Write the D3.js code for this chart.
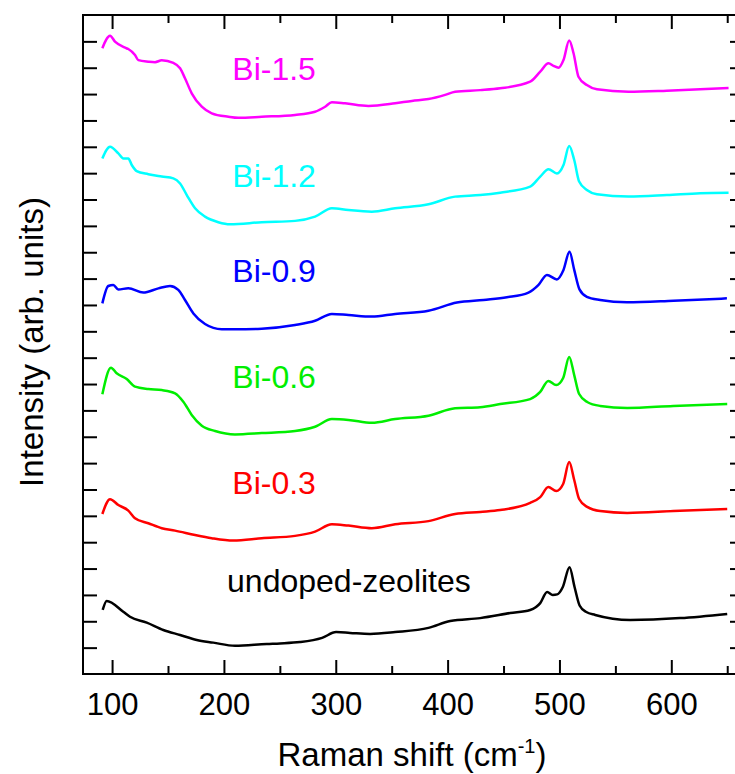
<!DOCTYPE html>
<html>
<head>
<meta charset="utf-8">
<script src="https://cdn.jsdelivr.net/npm/d3@7"></script>
<style>
  html, body { margin: 0; padding: 0; background: #fff; overflow: hidden; }
  svg { display: block; font-family: "Liberation Sans", Arial, sans-serif; }
</style>
</head>
<body>
<svg id="chart" width="735" height="774"></svg>
<script>
// ---------------- data ----------------
const seriesNames = ["undoped-zeolites", "Bi-0.3", "Bi-0.6", "Bi-0.9", "Bi-1.2", "Bi-1.5"];

const xUndoped = [91.6, 95.2, 110.0, 116.0, 131.0, 145.8, 160.8, 175.7, 190.5, 209.9, 238.3, 250.2, 268, 287.8, 300.3, 312.8, 330.7, 353.1, 382.9, 402.3, 429.1, 455.9, 473.8, 482.8, 489.0, 494.0, 498.0, 503.0, 509.0, 513.5, 518.0, 524.0, 532.0, 563.3, 607.9, 650.0];
const yUndoped = [2.43, 2.77, 2.36, 2.17, 1.95, 1.67, 1.48, 1.29, 1.19, 1.07, 1.14, 1.16, 1.21, 1.37, 1.59, 1.56, 1.52, 1.59, 1.75, 2.01, 2.12, 2.31, 2.43, 2.69, 3.11, 3.00, 3.02, 3.30, 4.05, 3.30, 2.60, 2.35, 2.24, 2.05, 2.12, 2.28];

const xBi03 = [91.3, 98.2, 105.6, 114.5, 120.5, 132.4, 144.4, 156.3, 174.2, 189.1, 208.4, 233.8, 263.6, 281.5, 296.5, 311.3, 332.2, 353.1, 382.9, 406.7, 429.1, 447.0, 473.8, 482.8, 490.0, 497.1, 503.3, 508.7, 513.2, 517.6, 524.8, 536.4, 560.6, 601.8, 650.0];
const yBi03 = [6.07, 6.63, 6.41, 6.20, 5.91, 5.72, 5.53, 5.44, 5.27, 5.15, 5.06, 5.15, 5.24, 5.40, 5.68, 5.63, 5.53, 5.68, 5.80, 6.07, 6.15, 6.22, 6.49, 6.71, 7.09, 6.94, 7.21, 8.04, 7.36, 6.64, 6.34, 6.18, 6.11, 6.18, 6.26];

const xBi06 = [91.3, 99.0, 104.1, 113.1, 120.5, 132.4, 144.4, 156.3, 163.7, 171.2, 180.2, 192.1, 209.9, 233.8, 263.6, 281.5, 296.5, 311.3, 332.2, 353.1, 382.9, 406.7, 429.1, 447.0, 473.8, 482.8, 490.0, 497.1, 503.3, 508.7, 513.2, 517.6, 524.8, 536.4, 560.6, 601.8, 650.0];
const yBi06 = [10.61, 11.62, 11.41, 11.19, 10.90, 10.81, 10.77, 10.65, 10.33, 9.83, 9.42, 9.22, 9.09, 9.14, 9.22, 9.38, 9.67, 9.64, 9.53, 9.67, 9.80, 10.08, 10.12, 10.24, 10.43, 10.70, 11.12, 10.96, 11.23, 12.03, 11.34, 10.62, 10.32, 10.17, 10.09, 10.17, 10.24];

const xBi09 = [91.3, 96.6, 101.1, 105.6, 114.5, 127.9, 141.4, 151.8, 159.2, 165.2, 172.7, 183.1, 198.1, 209.9, 233.8, 263.6, 281.5, 296.5, 311.3, 332.2, 353.1, 382.9, 408.3, 432.1, 453.0, 472.3, 481.3, 488.8, 497.7, 503.6, 509.0, 513.2, 517.9, 524.5, 536.4, 560.3, 602.0, 649.7];
const yBi09 = [14.06, 14.72, 14.76, 14.59, 14.63, 14.47, 14.63, 14.72, 14.57, 14.19, 13.68, 13.28, 13.08, 13.08, 13.10, 13.24, 13.40, 13.66, 13.62, 13.56, 13.66, 13.78, 14.09, 14.19, 14.29, 14.47, 14.76, 15.14, 14.97, 15.33, 16.02, 15.33, 14.59, 14.31, 14.19, 14.10, 14.16, 14.25];

const xBi12 = [91.3, 98.2, 105.6, 110.1, 114.5, 117.6, 122.0, 132.4, 144.4, 154.8, 160.8, 166.8, 174.2, 183.1, 195.0, 205.5, 233.8, 263.6, 281.5, 296.5, 311.3, 332.2, 353.1, 382.9, 406.7, 429.1, 447.0, 473.8, 482.8, 490.2, 497.7, 503.6, 508.7, 513.2, 517.6, 524.5, 533.5, 561.7, 596.1, 625.8, 651.2];
const yBi12 = [19.56, 20.00, 19.75, 19.56, 19.56, 19.31, 19.08, 18.96, 18.87, 18.80, 18.61, 18.17, 17.67, 17.35, 17.14, 17.06, 17.14, 17.19, 17.35, 17.67, 17.60, 17.54, 17.67, 17.82, 18.11, 18.17, 18.26, 18.49, 18.87, 19.15, 18.99, 19.31, 20.03, 19.50, 18.68, 18.36, 18.20, 18.11, 18.17, 18.24, 18.26];

const xBi15 = [91.3, 98.2, 102.6, 111.6, 114.5, 120.5, 123.5, 132.4, 138.4, 144.4, 154.8, 160.8, 165.2, 171.2, 180.2, 189.1, 204.0, 212.9, 233.8, 263.6, 281.5, 290.5, 296.5, 308.3, 329.2, 353.1, 368.0, 382.9, 397.8, 406.7, 429.1, 447.0, 473.8, 482.8, 490.2, 494.7, 499.1, 503.6, 508.7, 512.6, 517.0, 524.5, 533.5, 561.7, 596.1, 625.8, 651.2];
const yBi15 = [23.74, 24.21, 23.99, 23.76, 23.71, 23.48, 23.29, 23.23, 23.21, 23.28, 23.18, 22.98, 22.60, 22.03, 21.52, 21.27, 21.14, 21.10, 21.14, 21.21, 21.33, 21.52, 21.69, 21.65, 21.55, 21.65, 21.74, 21.81, 21.97, 22.09, 22.15, 22.22, 22.47, 22.85, 23.17, 23.07, 23.00, 23.29, 24.03, 23.55, 22.66, 22.34, 22.18, 22.09, 22.13, 22.18, 22.23];

// label anchor positions (data units)
const labelX = [202.8, 207.5, 207.5, 207.5, 207.5, 207.5];
const labelY = [3.11, 6.83, 10.85, 14.87, 18.47, 22.53];

const xMajorTicks = [100, 200, 300, 400, 500, 600];
const xMinorTicks = [150, 250, 350, 450, 550, 650];
const yTicks = d3.range(1, 25);

// ---------------- styles ----------------
const colors = ["#000000", "#ff0000", "#00ee00", "#0000ff", "#00ffff", "#ff00ff"];

const xs = [xUndoped, xBi03, xBi06, xBi09, xBi12, xBi15];
const ys = [yUndoped, yBi03, yBi06, yBi09, yBi12, yBi15];
const series = seriesNames.map((n, i) => ({
  name: n, color: colors[i],
  points: xs[i].map((xv, j) => ({ x: xv, y: ys[i][j] }))
}));

const svg = d3.select("#chart");
const mLeft = 83, mRight = 744, mTop = 15, mBottom = 674;

const x = d3.scaleLinear().domain([74, 665]).range([mLeft, mRight]);
const y = d3.scaleLinear().domain([0, 25]).range([mBottom, mTop]);

const line = d3.line().curve(d3.curveMonotoneX).x(d => x(d.x)).y(d => y(d.y));

// curves
svg.append("g").selectAll("path").data(series).join("path")
  .attr("d", d => line(d.points))
  .attr("fill", "none")
  .attr("stroke", d => d.color)
  .attr("stroke-width", 2.5)
  .attr("stroke-linejoin", "round");

// axes
function styleAxis(g) {
  g.select(".domain").remove();
  g.selectAll(".tick line").attr("stroke", "#000").attr("stroke-width", 2);
}
const fs = 31;
svg.append("g").attr("transform", `translate(0,${mBottom})`)
  .call(d3.axisBottom(x).tickValues(xMajorTicks).tickSize(-14).tickPadding(19).tickFormat(d3.format("d")))
  .call(styleAxis)
  .call(g => g.selectAll("text").attr("font-size", fs).attr("fill", "#000")
    .attr("font-family", "Liberation Sans, Arial, sans-serif"));
svg.append("g").attr("transform", `translate(0,${mBottom})`)
  .call(d3.axisBottom(x).tickValues(xMinorTicks).tickSize(-8).tickFormat(""))
  .call(styleAxis);
svg.append("g").attr("transform", `translate(0,${mTop})`)
  .call(d3.axisTop(x).tickValues(xMajorTicks).tickSize(-14).tickFormat(""))
  .call(styleAxis);
svg.append("g").attr("transform", `translate(0,${mTop})`)
  .call(d3.axisTop(x).tickValues(xMinorTicks).tickSize(-8).tickFormat(""))
  .call(styleAxis);
svg.append("g").attr("transform", `translate(${mLeft},0)`)
  .call(d3.axisLeft(y).tickValues(yTicks).tickSize(-14).tickFormat(""))
  .call(styleAxis);
svg.append("g").attr("transform", `translate(${mRight},0)`)
  .call(d3.axisRight(y).tickValues(yTicks).tickSize(-14).tickFormat(""))
  .call(styleAxis);

// frame
svg.append("rect").attr("x", mLeft).attr("y", mTop)
  .attr("width", mRight - mLeft).attr("height", mBottom - mTop)
  .attr("fill", "none").attr("stroke", "#000").attr("stroke-width", 2);

// series labels
svg.append("g").selectAll("text").data(series).join("text")
  .attr("x", (d, i) => x(labelX[i]))
  .attr("y", (d, i) => y(labelY[i]))
  .attr("fill", d => d.color)
  .attr("font-size", 32)
  .text(d => d.name);

// axis titles
const xt = svg.append("text")
  .attr("x", 412).attr("y", 766)
  .attr("text-anchor", "middle")
  .attr("font-size", 33).attr("fill", "#000");
xt.append("tspan").text("Raman shift (cm");
xt.append("tspan").attr("font-size", 20).attr("dy", -13).text("-1");
xt.append("tspan").attr("dy", 13).text(")");

svg.append("text")
  .attr("transform", "translate(43,342) rotate(-90)")
  .attr("text-anchor", "middle")
  .attr("font-size", 33).attr("fill", "#000")
  .text("Intensity (arb. units)");
</script>
</body>
</html>
